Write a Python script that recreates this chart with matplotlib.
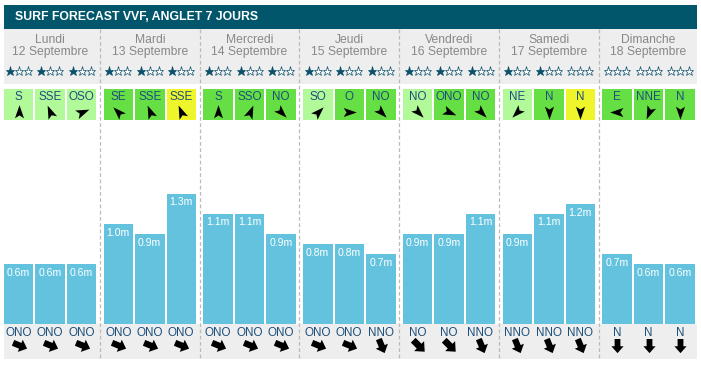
import numpy as np
import matplotlib
matplotlib.use("Agg")
import matplotlib.pyplot as plt
from matplotlib.patches import Rectangle
from matplotlib.path import Path

plt.rcParams['font.family'] = ['Liberation Sans', 'DejaVu Sans']

# ---------------- data ----------------
title = "SURF FORECAST VVF, ANGLET 7 JOURS"
days = ["Lundi", "Mardi", "Mercredi", "Jeudi", "Vendredi", "Samedi", "Dimanche"]
dates = ["12 Septembre", "13 Septembre", "14 Septembre", "15 Septembre",
         "16 Septembre", "17 Septembre", "18 Septembre"]
stars = [[1, 1, 1], [1, 1, 1], [1, 1, 1], [1, 1, 1], [1, 1, 1], [1, 1, 0], [0, 0, 0]]
wind_dir = [["S", "SSE", "OSO"], ["SE", "SSE", "SSE"], ["S", "SSO", "NO"],
            ["SO", "O", "NO"], ["NO", "ONO", "NO"], ["NE", "N", "N"], ["E", "NNE", "N"]]
wind_quality = [["light", "light", "light"], ["good", "good", "warn"],
                ["good", "good", "good"], ["light", "good", "good"],
                ["light", "good", "good"], ["light", "good", "warn"],
                ["good", "good", "good"]]
swell_height = [[0.6, 0.6, 0.6], [1.0, 0.9, 1.3], [1.1, 1.1, 0.9], [0.8, 0.8, 0.7],
                [0.9, 0.9, 1.1], [0.9, 1.1, 1.2], [0.7, 0.6, 0.6]]
swell_dir = [["ONO", "ONO", "ONO"], ["ONO", "ONO", "ONO"], ["ONO", "ONO", "ONO"],
             ["ONO", "ONO", "NNO"], ["NO", "NO", "NNO"], ["NNO", "NNO", "NNO"],
             ["N", "N", "N"]]

# ---------------- style ----------------
W, H = 701, 366
TEAL = "#01566b"
GRAY_BG = "#eeeeee"
BAR = "#63c3de"
QCOL = {"light": "#b2fa99", "good": "#66df44", "warn": "#eef52b"}
STAR = "#0b4f69"
DAYTXT = "#888888"
LBL = "#1c4f7c"

COMPASS = ["N", "NNE", "NE", "ENE", "E", "ESE", "SE", "SSE",
           "S", "SSO", "SO", "OSO", "O", "ONO", "NO", "NNO"]


def deg(name):
    return COMPASS.index(name) * 22.5


def rot_marker(verts, theta_deg):
    t = np.radians(theta_deg)
    v = np.asarray(verts, float)
    x = v[:, 0] * np.cos(t) + v[:, 1] * np.sin(t)
    y = -v[:, 0] * np.sin(t) + v[:, 1] * np.cos(t)
    pts = np.column_stack([x, y])
    pts = np.vstack([pts, pts[:1]])
    codes = [Path.MOVETO] + [Path.LINETO] * (len(v) - 1) + [Path.CLOSEPOLY]
    return Path(pts, codes)


NAV = [(0, 1), (0.62, -0.8), (0, -0.4), (-0.62, -0.8)]
BLOCK = [(0, 1), (0.8, 0.1), (0.38, 0.1), (0.38, -0.85), (-0.38, -0.85),
         (-0.38, 0.1), (-0.8, 0.1)]

fig = plt.figure(figsize=(W / 100, H / 100), dpi=100)
ax = fig.add_axes([0, 0, 1, 1])
ax.set_xlim(0, W)
ax.set_ylim(H, 0)
ax.axis("off")

X0, X1 = 4, 697
# title bar and grey bands
ax.add_patch(Rectangle((X0, 5), X1 - X0, 24, color=TEAL, lw=0))
ax.add_patch(Rectangle((X0, 29), X1 - X0, 55, color=GRAY_BG, lw=0))
ax.add_patch(Rectangle((X0, 324), X1 - X0, 35, color=GRAY_BG, lw=0))
ax.text(15, 17, title, color="white", fontsize=8.8, fontweight="bold",
        va="center", ha="left")

day_w = 99.75
offsets = [14.5, 46.0, 77.5]
cell_w = 29.5

# bar axes: y in metres, 100 px per metre, baseline at pixel 324
bax = fig.add_axes([0, (H - 324) / H, 1, 200 / H])
bax.set_xlim(0, W)
bax.set_ylim(0, 2)
bax.axis("off")
bax.patch.set_alpha(0)

xs, hs = [], []
for d in range(len(days)):
    x0 = 4 + day_w * d
    cx = x0 + 46.0
    ax.text(cx, 40, days[d], color=DAYTXT, fontsize=8.7, ha="center", va="center")
    ax.text(cx, 52.5, dates[d], color=DAYTXT, fontsize=8.7, ha="center", va="center")
    if d > 0:
        ax.plot([x0 - 4, x0 - 4], [29, 360], color="#bbbbbb", lw=0.9,
                ls=(0, (3, 2)))
    for k in range(3):
        c = x0 + offsets[k]
        # stars
        for s in range(3):
            filled = s < stars[d][k]
            ax.plot(c - 9 + 9 * s, 71, marker="*", ms=6.6,
                    mfc=STAR if filled else "white", mec=STAR, mew=0.5)
        # wind box
        ax.add_patch(Rectangle((c - cell_w / 2, 89), cell_w, 31,
                               color=QCOL[wind_quality[d][k]], lw=0))
        ax.text(c, 97.5, wind_dir[d][k], color=LBL, fontsize=8.4,
                ha="center", va="center")
        ax.plot(c, 111.5, marker=rot_marker(NAV, deg(wind_dir[d][k]) + 180),
                ms=10.5, color="black", mew=0)
        xs.append(c)
        hs.append(swell_height[d][k])
        # swell labels
        ax.text(c, 332.5, swell_dir[d][k], color=LBL, fontsize=8.4,
                ha="center", va="center")
        ax.plot(c, 344.5, marker=rot_marker(BLOCK, deg(swell_dir[d][k]) + 180),
                ms=11, color="black", mew=0)

bars = bax.bar(xs, hs, width=cell_w, color=BAR, lw=0)
for x, h in zip(xs, hs):
    bax.annotate(f"{h:.1f}m", (x, h), xytext=(0, -8.5), textcoords="offset pixels",
                 color="white", fontsize=7.6, ha="center", va="center")

fig.savefig("out.png", dpi=100)
